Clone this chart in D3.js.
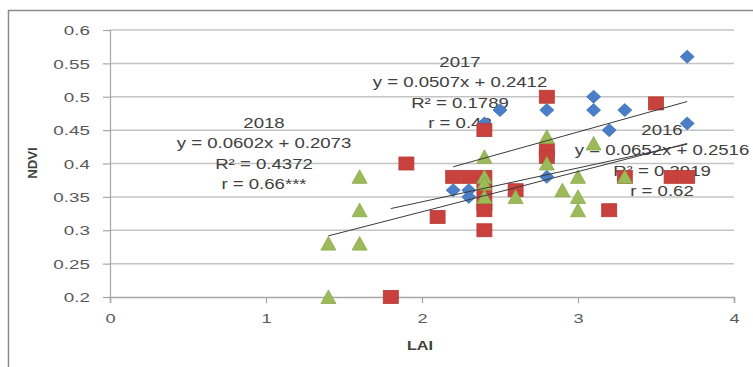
<!DOCTYPE html>
<html>
<head>
<meta charset="utf-8">
<script src="https://cdn.jsdelivr.net/npm/d3@7"></script>
<style>
  html, body { margin: 0; padding: 0; background: #fff; }
  svg { display: block; }
  text { font-family: "Liberation Sans", Arial, sans-serif; }
</style>
</head>
<body>
<svg id="chart" width="753" height="367"></svg>
<script>
// ---- data ----
const xTicks = [0, 1, 2, 3, 4];
const yTicks = [0.2, 0.25, 0.3, 0.35, 0.4, 0.45, 0.5, 0.55, 0.6];
const yTickLabels = ["0.2", "0.25", "0.3", "0.35", "0.4", "0.45", "0.5", "0.55", "0.6"];

const blueX = [3.7, 3.1, 3.1, 3.3, 2.8, 2.5, 3.2, 3.7, 2.4, 2.8, 2.2, 2.3, 2.3];
const blueY = [0.56, 0.50, 0.48, 0.48, 0.48, 0.48, 0.45, 0.46, 0.46, 0.38, 0.36, 0.36, 0.35];

const redX = [2.8, 3.5, 2.4, 1.9, 2.2, 2.3, 2.4, 2.4, 2.4, 2.4, 2.4, 2.1, 1.8, 2.6, 2.8, 2.8, 3.2, 3.3, 3.6, 3.7];
const redY = [0.50, 0.49, 0.45, 0.40, 0.38, 0.38, 0.38, 0.36, 0.34, 0.33, 0.30, 0.32, 0.20, 0.36, 0.42, 0.41, 0.33, 0.38, 0.38, 0.38];

const greenX = [1.4, 1.4, 1.6, 1.6, 1.6, 2.4, 2.4, 2.4, 2.4, 2.6, 2.8, 2.8, 2.9, 3.0, 3.0, 3.0, 3.1, 3.3];
const greenY = [0.28, 0.20, 0.38, 0.33, 0.28, 0.41, 0.38, 0.37, 0.35, 0.35, 0.44, 0.40, 0.36, 0.38, 0.35, 0.33, 0.43, 0.38];

const trendNames = ["2016", "2017", "2018"];
const trendSlope = [0.0652, 0.0507, 0.0602];
const trendIntercept = [0.2516, 0.2412, 0.2073];
const trendXStart = [2.2, 1.8, 1.4];
const trendXEnd = [3.7, 3.7, 3.7];

const labelLines = [
  ["2016", "y = 0.0652x + 0.2516", "R² = 0.3919", "r = 0.62"],
  ["2017", "y = 0.0507x + 0.2412", "R² = 0.1789", "r = 0.42"],
  ["2018", "y = 0.0602x + 0.2073", "R² = 0.4372", "r = 0.66***"]
];

// ---- layout ----
const svg = d3.select("#chart");
const x = d3.scaleLinear().domain([0, 4]).range([110, 734]);
const y = d3.scaleLinear().domain([0.2, 0.6]).range([297, 30]);

// outer border
svg.append("rect").attr("x", 8.5).attr("y", 10.5).attr("width", 760).attr("height", 380)
  .attr("fill", "none").attr("stroke", "#8c8c8c").attr("stroke-width", 1.5);

// gridlines
svg.append("g").selectAll("line").data(yTicks.slice(1)).join("line")
  .attr("x1", x(0)).attr("x2", x(4))
  .attr("y1", d => y(d)).attr("y2", d => y(d))
  .attr("stroke", "#c4c4c4").attr("stroke-width", 1.5);

// y axis
const yAxis = svg.append("g").attr("transform", `translate(${x(0)},0)`)
  .call(d3.axisLeft(y).tickValues(yTicks).tickSize(7).tickFormat((d, i) => yTickLabels[i]));
yAxis.select(".domain").attr("stroke", "#a6a6a6").attr("stroke-width", 1.2);
yAxis.selectAll(".tick line").attr("stroke", "#a6a6a6").attr("stroke-width", 1.2);
yAxis.selectAll(".tick text")
  .attr("x", 0).attr("dy", "0.36em")
  .attr("transform", "translate(-20,0) scale(1.45,1)")
  .attr("text-anchor", "end")
  .attr("fill", "#595959").style("font-size", "13px").style("font-family", "Liberation Sans, Arial, sans-serif");

// x axis
const xAxis = svg.append("g").attr("transform", `translate(0,${y(0.2)})`)
  .call(d3.axisBottom(x).tickValues(xTicks).tickSize(6).tickFormat(d3.format("d")));
xAxis.select(".domain").attr("stroke", "#a6a6a6").attr("stroke-width", 1.5);
xAxis.selectAll(".tick line").attr("stroke", "#a6a6a6").attr("stroke-width", 1.2);
xAxis.selectAll(".tick text")
  .attr("y", 0).attr("dy", 0)
  .attr("transform", "translate(0,26) scale(1.4,1)")
  .attr("text-anchor", "middle")
  .attr("fill", "#595959").style("font-size", "13px").style("font-family", "Liberation Sans, Arial, sans-serif");

// axis titles
svg.append("text").attr("transform", "translate(420,350) scale(1.35,1)")
  .attr("text-anchor", "middle").attr("font-weight", "bold")
  .attr("font-size", "12px").attr("fill", "#404040").text("LAI");
svg.append("text").attr("transform", "translate(37,163) rotate(-90) scale(1.1,1)")
  .attr("text-anchor", "middle").attr("font-weight", "bold")
  .attr("font-size", "12px").attr("fill", "#404040").text("NDVI");

// trendline labels
const labelCenters = [[662, 135], [460, 67], [264, 128]];
labelLines.forEach((lines, k) => {
  const g = svg.append("g");
  g.selectAll("text").data(lines).join("text")
    .attr("transform", (d, i) => `translate(${labelCenters[k][0]},${labelCenters[k][1] + i * 20.3}) scale(1.24,1)`)
    .attr("text-anchor", "middle")
    .attr("font-size", "15px")
    .attr("fill", "#404040")
    .text(d => d);
});

// markers
const blue = blueX.map((d, i) => ({ x: d, y: blueY[i] }));
const red = redX.map((d, i) => ({ x: d, y: redY[i] }));
const green = greenX.map((d, i) => ({ x: d, y: greenY[i] }));

svg.append("g").selectAll("path").data(blue).join("path")
  .attr("transform", d => `translate(${x(d.x)},${y(d.y)})`)
  .attr("d", "M0,-6.5L7,0L0,6.5L-7,0Z")
  .attr("fill", "#4a7ec6").attr("stroke", "#3f72b8").attr("stroke-width", 0.8);

svg.append("g").selectAll("rect").data(red).join("rect")
  .attr("x", d => x(d.x) - 7.5).attr("y", d => y(d.y) - 6.5)
  .attr("width", 15).attr("height", 13)
  .attr("fill", "#c9413d").attr("stroke", "#b83a36").attr("stroke-width", 0.8);

svg.append("g").selectAll("path").data(green).join("path")
  .attr("transform", d => `translate(${x(d.x)},${y(d.y)})`)
  .attr("d", "M0,-7L7.5,6.5L-7.5,6.5Z")
  .attr("fill", "#9bbb59").attr("stroke", "#8aa84c").attr("stroke-width", 0.8);

// trendlines
svg.append("g").selectAll("line").data(trendNames).join("line")
  .attr("x1", (d, i) => x(trendXStart[i]))
  .attr("x2", (d, i) => x(trendXEnd[i]))
  .attr("y1", (d, i) => y(trendSlope[i] * trendXStart[i] + trendIntercept[i]))
  .attr("y2", (d, i) => y(trendSlope[i] * trendXEnd[i] + trendIntercept[i]))
  .attr("stroke", "#3a3a3a").attr("stroke-width", 1);
</script>
</body>
</html>
